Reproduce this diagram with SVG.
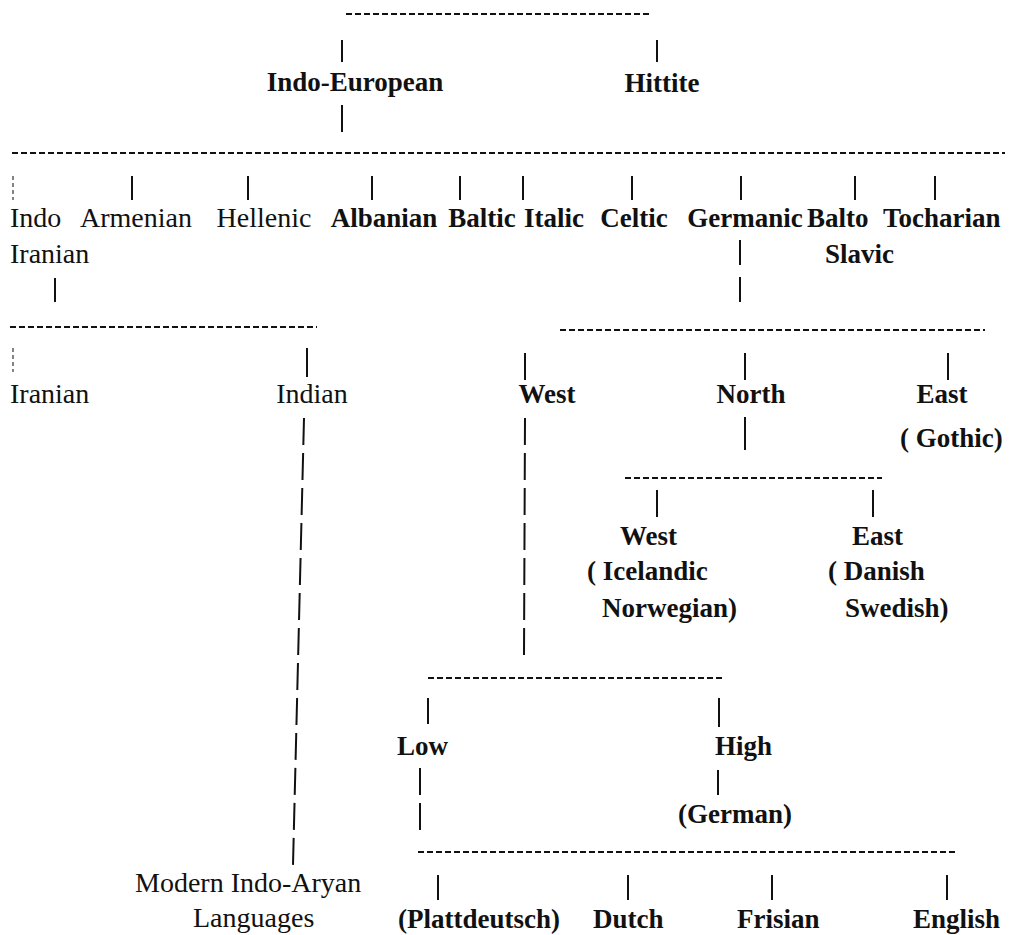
<svg xmlns="http://www.w3.org/2000/svg" width="1010" height="935" viewBox="0 0 1010 935">
<style>
  text { font-family: "Liberation Serif", "Times New Roman", serif; fill: #111; }
  .r { font-size: 28px; font-weight: normal; }
  .b { font-size: 27px; font-weight: bold; }
  .m { text-anchor: middle; }
  .h { stroke: #111; stroke-width: 2.2; stroke-dasharray: 6 3; fill: none; }
  .v { stroke: #111; stroke-width: 2; fill: none; }
  .vd { stroke: #111; stroke-width: 2; stroke-dasharray: 27 8; fill: none; }
  .vf { stroke: #333; stroke-width: 1.2; stroke-dasharray: 4 3; fill: none; }
</style>
<rect width="1010" height="935" fill="#fff"/>
<g id="connectors">
  <!-- top -->
  <line class="h" x1="346" y1="14" x2="652" y2="14"/>
  <line class="v" x1="342" y1="40" x2="342" y2="62"/>
  <line class="v" x1="657" y1="40" x2="657" y2="62"/>
  <line class="v" x1="342" y1="105" x2="342" y2="132"/>
  <!-- main branch line -->
  <line class="h" x1="12" y1="153" x2="1005" y2="153"/>
  <line class="vf" x1="13" y1="176" x2="13" y2="200"/>
  <line class="v" x1="132" y1="176" x2="132" y2="200"/>
  <line class="v" x1="248" y1="176" x2="248" y2="200"/>
  <line class="v" x1="372" y1="176" x2="372" y2="200"/>
  <line class="v" x1="460" y1="176" x2="460" y2="200"/>
  <line class="v" x1="523" y1="176" x2="523" y2="200"/>
  <line class="v" x1="632" y1="176" x2="632" y2="200"/>
  <line class="v" x1="741" y1="176" x2="741" y2="200"/>
  <line class="v" x1="855" y1="176" x2="855" y2="200"/>
  <line class="v" x1="935" y1="176" x2="935" y2="200"/>
  <!-- Indo-Iranian -->
  <line class="v" x1="55" y1="278" x2="55" y2="302"/>
  <line class="h" x1="10" y1="327" x2="317" y2="327"/>
  <line class="vf" x1="13" y1="348" x2="13" y2="372"/>
  <line class="v" x1="307" y1="348" x2="307" y2="377"/>
  <line class="vd" x1="304" y1="418" x2="293" y2="865"/>
  <!-- Germanic -->
  <line class="v" x1="740" y1="240" x2="740" y2="265"/>
  <line class="v" x1="740" y1="277" x2="740" y2="302"/>
  <line class="h" x1="560" y1="330" x2="985" y2="330"/>
  <line class="v" x1="525" y1="353" x2="525" y2="380"/>
  <line class="v" x1="745" y1="353" x2="745" y2="380"/>
  <line class="v" x1="948" y1="353" x2="948" y2="380"/>
  <!-- North -->
  <line class="v" x1="745" y1="417" x2="745" y2="450"/>
  <line class="h" x1="625" y1="478" x2="882" y2="478"/>
  <line class="v" x1="657" y1="490" x2="657" y2="517"/>
  <line class="v" x1="873" y1="490" x2="873" y2="517"/>
  <!-- West -->
  <line class="vd" x1="525" y1="418" x2="524" y2="657"/>
  <line class="h" x1="428" y1="678" x2="722" y2="678"/>
  <line class="v" x1="428" y1="698" x2="428" y2="724"/>
  <line class="v" x1="719" y1="698" x2="719" y2="727"/>
  <line class="v" x1="420" y1="768" x2="420" y2="795"/>
  <line class="v" x1="420" y1="803" x2="420" y2="830"/>
  <line class="v" x1="718" y1="770" x2="718" y2="795"/>
  <!-- Low -->
  <line class="h" x1="418" y1="852" x2="958" y2="852"/>
  <line class="v" x1="438" y1="875" x2="438" y2="900"/>
  <line class="v" x1="628" y1="875" x2="628" y2="900"/>
  <line class="v" x1="772" y1="875" x2="772" y2="900"/>
  <line class="v" x1="947" y1="875" x2="947" y2="900"/>
</g>
<g id="indo-european"><text class="b m" x="355" y="91">Indo-European</text></g>
<g id="hittite"><text class="b m" x="662" y="92">Hittite</text></g>
<g id="indo-iranian"><text class="r" x="10" y="227">Indo</text><text class="r" x="10" y="263">Iranian</text></g>
<g id="armenian"><text class="r m" x="136" y="227">Armenian</text></g>
<g id="hellenic"><text class="r m" x="264" y="227">Hellenic</text></g>
<g id="albanian"><text class="b m" x="384" y="227">Albanian</text></g>
<g id="baltic"><text class="b m" x="482" y="227">Baltic</text></g>
<g id="italic"><text class="b m" x="554" y="227">Italic</text></g>
<g id="celtic"><text class="b m" x="634" y="227">Celtic</text></g>
<g id="germanic"><text class="b m" x="745" y="227">Germanic</text></g>
<g id="balto-slavic"><text class="b" x="807" y="227">Balto</text><text class="b" x="825" y="263">Slavic</text></g>
<g id="tocharian"><text class="b" x="883" y="227">Tocharian</text></g>
<g id="iranian"><text class="r" x="10" y="403">Iranian</text></g>
<g id="indian"><text class="r m" x="312" y="403">Indian</text></g>
<g id="west"><text class="b m" x="547" y="403">West</text></g>
<g id="north"><text class="b m" x="751" y="403">North</text></g>
<g id="east"><text class="b m" x="942" y="403">East</text><text class="b" x="900" y="447">( Gothic)</text></g>
<g id="north-west"><text class="b" x="620" y="545">West</text><text class="b" x="587" y="580">( Icelandic</text><text class="b" x="602" y="617">Norwegian)</text></g>
<g id="north-east"><text class="b" x="852" y="545">East</text><text class="b" x="828" y="580">( Danish</text><text class="b" x="845" y="617">Swedish)</text></g>
<g id="low"><text class="b" x="397" y="755">Low</text></g>
<g id="high"><text class="b" x="715" y="755">High</text><text class="b" x="678" y="823">(German)</text></g>
<g id="modern-indo-aryan"><text class="r" x="135" y="892">Modern Indo-Aryan</text><text class="r" x="193" y="927">Languages</text></g>
<g id="plattdeutsch"><text class="b" x="398" y="928">(Plattdeutsch)</text></g>
<g id="dutch"><text class="b" x="593" y="928">Dutch</text></g>
<g id="frisian"><text class="b" x="737" y="928">Frisian</text></g>
<g id="english"><text class="b" x="913" y="928">English</text></g>
</svg>
